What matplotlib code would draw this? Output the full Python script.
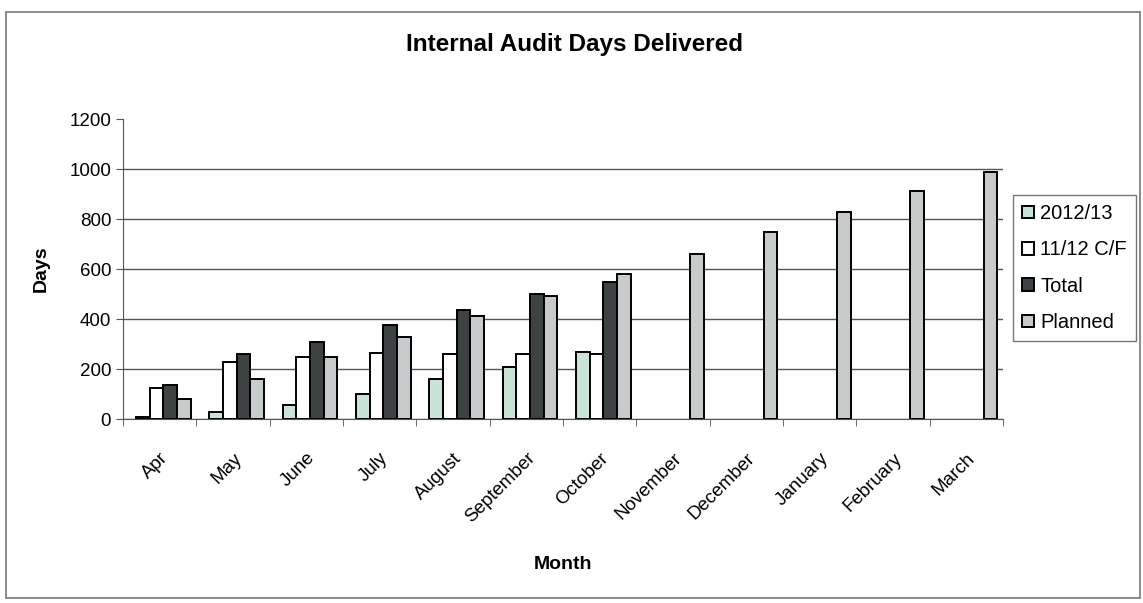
import numpy as np
import matplotlib
matplotlib.use("Agg")
import matplotlib.pyplot as plt
from matplotlib.patches import Rectangle

plt.rcParams['font.family'] = ['Liberation Sans', 'DejaVu Sans']

months = ['Apr', 'May', 'June', 'July', 'August', 'September', 'October',
          'November', 'December', 'January', 'February', 'March']
nan = np.nan
days_1213 = [10, 30, 55, 100, 160, 210, 270, nan, nan, nan, nan, nan]
days_cf = [125, 230, 248, 265, 262, 262, 262, nan, nan, nan, nan, nan]
days_total = [135, 262, 310, 378, 435, 500, 550, nan, nan, nan, nan, nan]
days_planned = [80, 160, 250, 330, 412, 492, 580, 660, 749, 829, 912, 989]

series = [('2012/13', days_1213, '#c9e4d6'),
          ('11/12 C/F', days_cf, '#ffffff'),
          ('Total', days_total, '#3d4242'),
          ('Planned', days_planned, '#c8cbcb')]

fig = plt.figure(figsize=(11.43, 6.03), dpi=100)
W, H = 1143, 603
ax = fig.add_axes([123 / W, 1 - 419 / H, 880 / W, 300 / H])

x = np.arange(len(months))
w = 0.186
for i, (name, vals, col) in enumerate(series):
    ax.bar(x + (i - 1.5) * w + 0.05, vals, w, color=col, edgecolor='black',
           linewidth=1.4, label=name, zorder=3)

ax.set_xlim(-0.5, 11.5)
ax.set_ylim(0, 1200)
ax.set_yticks(range(0, 1201, 200))
ax.yaxis.grid(True, color='#555555', linewidth=1.0, zorder=0)
# no gridline at top
for gl in ax.yaxis.get_gridlines()[-1:]:
    gl.set_visible(False)
ax.set_xticks(x)
ax.set_xticklabels(months, rotation=45, ha='right', rotation_mode='anchor')
ax.set_xticks(np.arange(-0.5, 12, 1), minor=True)
ax.tick_params(axis='x', which='major', length=0, labelsize=13.5, pad=22)
ax.tick_params(axis='x', which='minor', length=5, color='#555555')
ax.tick_params(axis='y', length=5, color='#555555', labelsize=13.5)
for s in ['top', 'right']:
    ax.spines[s].set_visible(False)
for s in ['left', 'bottom']:
    ax.spines[s].set_color('#555555')

ax.set_ylabel('Days', fontsize=14, fontweight='bold', labelpad=14)
ax.set_xlabel('Month', fontsize=14, fontweight='bold')
ax.xaxis.set_label_coords(0.5, -(556 - 419) / 300)
fig.text(0.5 * (123 + 1003) / W + 0.01, 1 - 45 / H, 'Internal Audit Days Delivered',
         ha='center', va='center', fontsize=17.5, fontweight='bold')

leg = ax.legend(loc='upper left', bbox_to_anchor=(1013 / W, 1 - 195 / H),
                bbox_transform=fig.transFigure, fontsize=14.5, frameon=True,
                fancybox=False, edgecolor='#555555', handlelength=0.6,
                handleheight=0.6, handletextpad=0.3, labelspacing=0.86,
                borderpad=0.45, borderaxespad=0)
leg.get_frame().set_linewidth(1.0)

fig.patches.append(Rectangle((6 / W, 1 - 598 / H), 1134 / W, 586 / H,
                             transform=fig.transFigure, fill=False,
                             edgecolor='#777777', linewidth=1.2))

fig.savefig('out.png', dpi=100)
